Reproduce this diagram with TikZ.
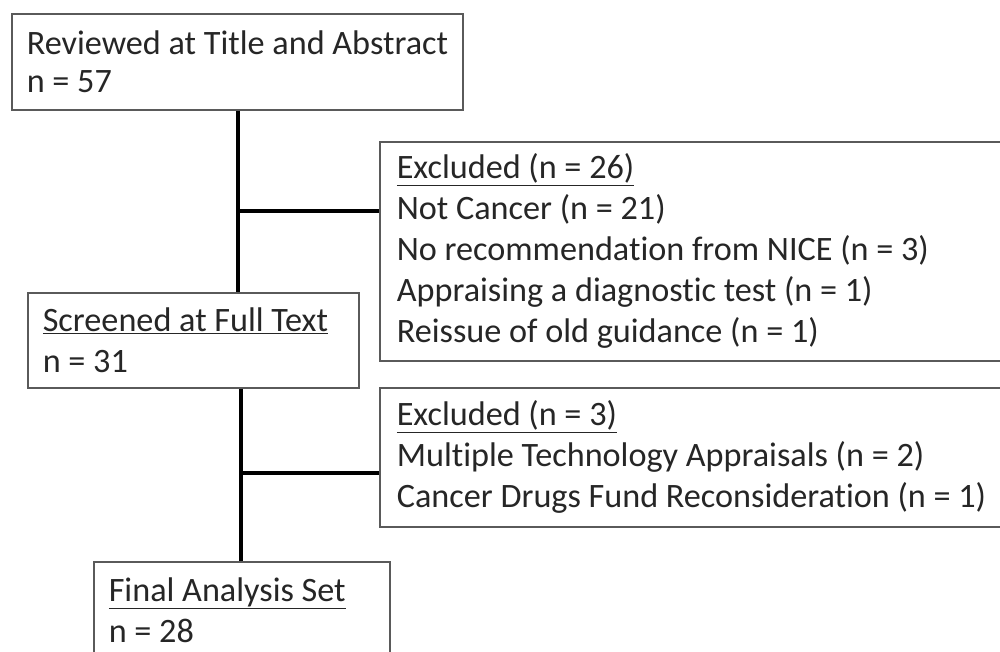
\documentclass[tikz,border=0pt]{standalone}
\usepackage{fontspec}
\setmainfont{Carlito}[RawFeature={-liga}]
\definecolor{txt}{HTML}{262626}
\definecolor{edge}{HTML}{5A5A5A}
\begin{document}
\begin{tikzpicture}[x=1pt,y=-1pt,
  box/.style={draw=edge, line width=1.6pt, rectangle, anchor=north west,
    align=flush left, inner xsep=15pt, inner ysep=0pt, text=txt,
    font=\fontsize{34.2}{41}\selectfont},
  link/.style={line width=4.5pt, black}]
\useasboundingbox (0,0) rectangle (1000,651);
\clip (0,0) rectangle (1000,651);
\fill[white] (0,0) rectangle (1000,651);

\node[box, minimum width=451pt, minimum height=96pt, text width=421pt,
  font=\fontsize{34.2}{37.5}\selectfont] (b1) at (11,13)
  {\mbox{Reviewed at Title and Abstract}\\n = 57};
\node[box, inner xsep=17pt, minimum width=640pt, minimum height=219pt, text width=606pt] (b2) at (379,141)
  {\underline{Excluded (n = 26)}\\Not Cancer (n = 21)\\No recommendation from NICE (n = 3)\\Appraising a diagnostic test (n = 1)\\Reissue of old guidance (n = 1)};
\node[box, minimum width=331pt, minimum height=95pt, text width=301pt] (b3) at (27,292)
  {\mbox{\underline{Screened at Full Text}}\\n = 31};
\node[box, inner xsep=17pt, minimum width=640pt, minimum height=139pt, text width=606pt] (b4) at (379,387)
  {\underline{Excluded (n = 3)}\\Multiple Technology Appraisals (n = 2)\\\mbox{Cancer Drugs Fund Reconsideration (n = 1)}};
\node[box, minimum width=296pt, minimum height=96pt, text width=266pt] (b5) at (93,561)
  {\mbox{\underline{Final Analysis Set}}\\n = 28};

\coordinate (j1) at (238,211);
\coordinate (j2) at (241,473);
\draw[link] (b1.south -| j1) -- (b3.north -| j1);
\draw[link] (j1) -- (b2.west |- j1);
\draw[link] (b3.south -| j2) -- (b5.north -| j2);
\draw[link] (j2) -- (b4.west |- j2);
\end{tikzpicture}
\end{document}
